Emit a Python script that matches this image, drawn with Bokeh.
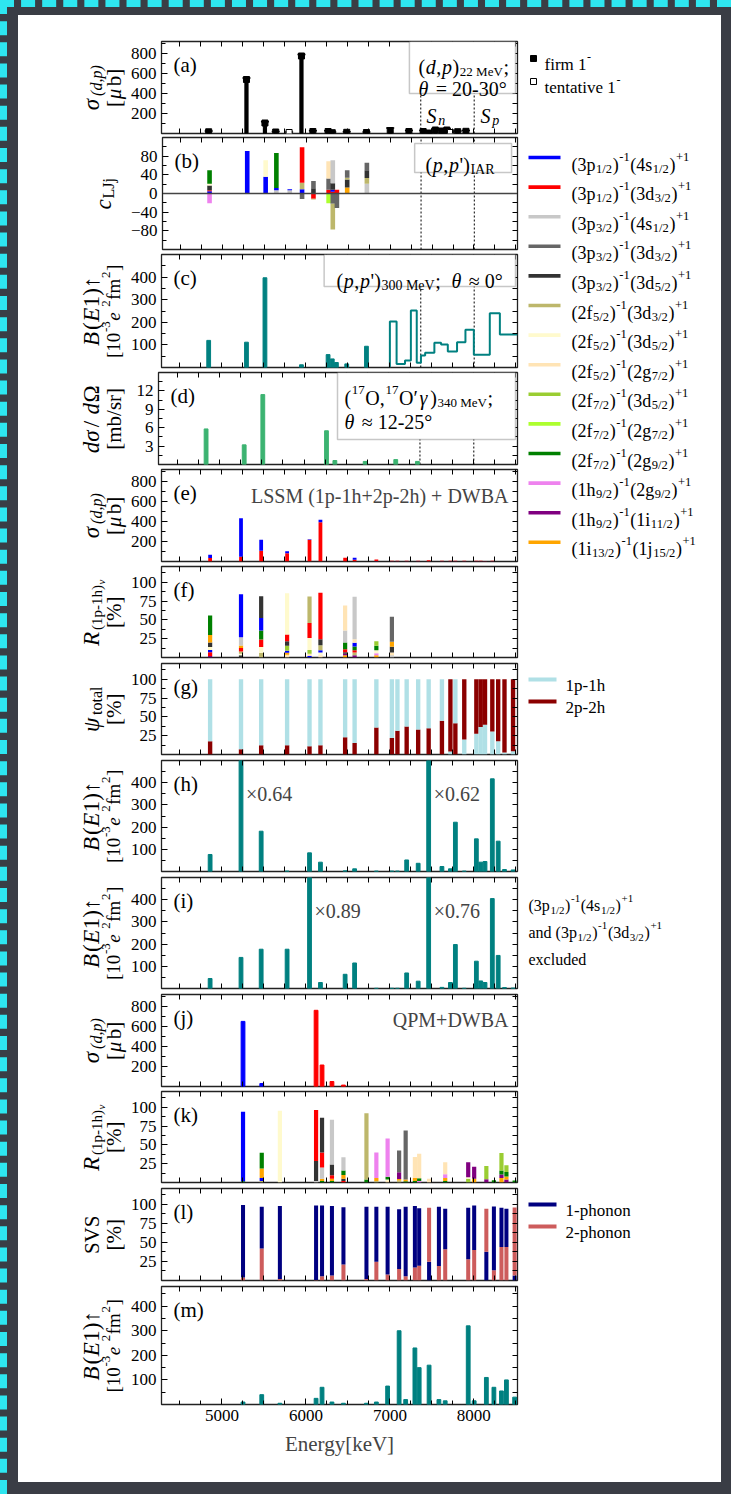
import math
from bokeh.plotting import figure
from bokeh.layouts import column, row
from bokeh.models import (Label, FixedTicker, LinearAxis, Range1d, BoxAnnotation,
                          Spacer, ColumnDataSource, Span)
from bokeh.embed import file_html
from bokeh.resources import INLINE

SERIF = "Liberation Serif"

# ------------------------------------------------------------------ data ---
E_LIM = (4280, 8520)
E_MAJOR = [5000, 6000, 7000, 8000]
E_MINOR = [4500, 4750, 5250, 5500, 5750, 6250, 6500, 6750, 7250, 7500, 7750, 8250, 8500]
S_N, S_P = 7368, 8004

# particle-hole configurations (hole, particle) and their colours
cfg_keys = ["p1s", "p1d3", "p3s", "p3d3", "p3d5", "f5d3", "f5d5", "f5g7",
            "f7d5", "f7g7", "f7g9", "h9g9", "h9i11", "i13j15"]
cfg_hole = ["3p", "3p", "3p", "3p", "3p", "2f", "2f", "2f", "2f", "2f", "2f", "1h", "1h", "1i"]
cfg_hole_j = ["1/2", "1/2", "3/2", "3/2", "3/2", "5/2", "5/2", "5/2", "7/2", "7/2", "7/2",
              "9/2", "9/2", "13/2"]
cfg_part = ["4s", "3d", "4s", "3d", "3d", "3d", "3d", "2g", "3d", "2g", "2g", "2g", "1i", "1j"]
cfg_part_j = ["1/2", "3/2", "1/2", "3/2", "5/2", "3/2", "5/2", "7/2", "5/2", "7/2", "9/2",
              "9/2", "11/2", "15/2"]
cfg_color = ["#0000ff", "#ff0000", "#c8c8c8", "#666666", "#333333", "#bdb76b", "#fffacd",
             "#ffe4b5", "#9acd32", "#adff2f", "#008000", "#ee82ee", "#800080", "#ffa500"]
CFG_COLOR = dict(zip(cfg_keys, cfg_color))

# (a) (d,p) 22 MeV
dp_E = [4842, 5292, 5512, 5640, 5800, 5947, 6083, 6264, 6314, 6486, 6721, 7004, 7227,
        7396, 7467, 7541, 7620, 7679, 7721, 7808, 7906]
dp_sigma = [17, 540, 105, 15, 10, 775, 20, 20, 8, 12, 10, 30, 20, 20, 5, 35, 25, 35, 10, 18, 22]
dp_err = [8, 15, 12, 6, 6, 15, 8, 8, 6, 6, 6, 25, 10, 10, 6, 12, 10, 12, 6, 8, 8]
dp_tentative = [False, False, False, False, True, False, False, False, False, False, False,
                False, False, False, False, False, False, False, True, False, False]

# (b) (p,p') IAR amplitudes, positive and negative stacks
iar_E = [4842, 5292, 5512, 5640, 5800, 5947, 6083, 6264, 6314, 6363, 6486, 6721]
iar_pos = [
    [("p1s", 5), ("p1d3", 2), ("p3d5", 10), ("f5d5", 4), ("f7g9", 29)],
    [("p1s", 91)],
    [("p1s", 36), ("f5d5", 35)],
    [("p3s", 7), ("p1s", 5), ("f7g9", 75)],
    [("p3s", 7), ("p1s", 2)],
    [("p1s", 9), ("f5d3", 14), ("p1d3", 76)],
    [("p3d5", 11), ("p3d3", 16)],
    [("p1d3", 8), ("p3d3", 24), ("f5g7", 37)],
    [("p1d3", 4), ("p1s", 4), ("p3d5", 14), ("p3s", 49)],
    [("p1d3", 8)],
    [("i13j15", 13), ("p3d5", 17), ("f5d3", 4), ("p3d3", 16)],
    [("p3s", 21), ("f5d3", 12), ("p3d5", 17), ("p3d3", 16)],
]
iar_neg = [
    [("h9g9", 21)], [], [], [], [], [("p3d3", 12)], [("p1d3", 11), ("f5d3", 2)],
    [("f7g7", 21)], [("p3d3", 22), ("f5d3", 55)], [("p3d3", 31)], [], [],
]

# (c) (p,p') 300 MeV B(E1): discrete states and binned strength
pp_E = [4842, 5292, 5512, 5947, 6264, 6314, 6363, 6486, 6721]
pp_BE1 = [120, 112, 397, 12, 57, 38, 22, 16, 94]
pp_edges = [7000, 7080, 7180, 7250, 7320, 7370, 7420, 7530, 7610, 7690, 7800, 7900, 8000,
            8190, 8310, 8520]
pp_hist = [203, 16, 31, 252, 21, 53, 65, 109, 102, 71, 112, 167, 56, 240, 146]

# (d) (17O,17O'g) 340 MeV
ox_E = [4842, 5292, 5512, 6264, 6363, 6721, 7082, 7338]
ox_xs = [5.8, 3.2, 11.4, 5.5, 0.65, 0.5, 0.8, 0.5]

# (e)-(i) large-scale shell model
lssm_E = [4859, 5227, 5467, 5776, 6043, 6173, 6467, 6580, 6839, 7024, 7090, 7200, 7337,
          7462, 7620, 7721, 7780, 7886, 8030, 8082, 8133, 8220, 8290, 8365, 8467]
lssm_dp = [
    [("p1d3", 35), ("p1s", 32)], [("p1d3", 47), ("p1s", 386)], [("p1d3", 107), ("p1s", 110)],
    [("p1d3", 83), ("p1s", 20)], [("p1d3", 217), ("p1s", 6)], [("p1d3", 393), ("p1s", 24)],
    [("p1d3", 37)], [("p1d3", 17), ("p1s", 20)], [("h9i11", 5), ("p1d3", 16)],
    [("h9i11", 3), ("p1d3", 5)], [("h9i11", 3), ("p1d3", 4)], [("h9i11", 3), ("p1d3", 5)],
    [("h9i11", 3), ("p1d3", 5)], [("p1d3", 12)], [("h9i11", 3), ("p1d3", 4)],
    [("h9i11", 3), ("p1d3", 4)], [("h9i11", 3), ("p1d3", 4)], [("h9i11", 3), ("p1d3", 4)],
    [("h9i11", 3), ("p1d3", 4)], [("h9i11", 3), ("p1d3", 4)], [("h9i11", 3), ("p1d3", 3)],
    [("h9i11", 3), ("p1d3", 4)], [], [], [],
]
lssm_R = [
    [("h9i11", 2), ("p1d3", 5), ("p1s", 3), ("f5d5", 4), ("p3d5", 6), ("i13j15", 10), ("f7g9", 26)],
    [("p3d5", 3), ("f5d5", 2), ("f5d3", 3), ("p1d3", 4.5), ("i13j15", 3.5), ("p3s", 11), ("p1s", 57)],
    [("f5d3", 6), ("f5d5", 8), ("p1d3", 10), ("f7g9", 12), ("p1s", 16.5), ("p3d5", 29)],
    [("f5g7", 3.5), ("i13j15", 2.7), ("p1s", 2.7), ("f7d5", 6.6), ("p3d5", 6.2), ("p1d3", 9),
     ("f5d5", 54.7)],
    [("p1s", 2), ("f5g7", 3), ("f7d5", 5), ("f5d5", 16), ("p1d3", 20), ("f5d3", 35)],
    [("f5g7", 3), ("f5d5", 3.5), ("p1s", 3), ("f5d3", 6.7), ("p3d5", 8), ("p1d3", 62)],
    [("i13j15", 3), ("h9i11", 2), ("p3d5", 2), ("p1d3", 4), ("f7g9", 9), ("p3s", 16), ("f5g7", 33.3)],
    [("h9i11", 3), ("f5d3", 3.5), ("p1d3", 3), ("f7g9", 5), ("p1s", 5), ("f5g7", 4.7), ("p3s", 56.5)],
    [("i13j15", 3), ("h9g9", 2.5), ("f5d5", 4), ("f7g9", 6), ("f7d5", 6)],
    [("p3s", 3), ("f5g7", 3.6), ("p3d5", 7.6), ("i13j15", 6.6), ("p3d3", 33.4)],
    [], [], [], [], [], [], [], [], [], [], [], [], [], [], [],
]
lssm_2p2h = [17.5, 7, 12.3, 12.3, 11, 12.3, 22.8, 15.3, 36, 21.9, 31.5, 37.3, 33.3, 35, 45,
             96, 41.6, 80, 72.4, 63.6, 60.5, 69.3, 82.5, 97.4, 95.6]
lssm_BE1 = [76.6, 620, 181.5, 2, 84, 42, 3, 12, 2, 2, 2, 52, 37, 600, 22.5, 12, 222, 2,
            147, 42, 45, 417.5, 136.6, 9, 7]
lssm_BE1_excl = [45, 140, 177, 177, 620, 27, 64, 115, 1, 1, 1, 70, 33, 600, 5, 27, 198, 1,
                 123, 34, 27, 405, 149, 4, 2]
h_scale_E = [5227, 7462]
h_scale_txt = ["×0.64", "×0.62"]
i_scale_E = [6043, 7462]
i_scale_txt = ["×0.89", "×0.76"]

# (j)-(m) quasiparticle-phonon model
qpm_dp_E = [5251, 5474, 6121, 6192, 6310, 6447]
qpm_dp_sigma = [651, 30, 762, 215, 50, 14]
qpm_dp_cfg = ["p1s", "p1s", "p1d3", "p1d3", "p1d3", "p1d3"]

qpm_E = [5251, 5474, 5690, 6121, 6192, 6310, 6447, 6721, 6839, 6973, 7110, 7188, 7298,
         7349, 7467, 7584, 7659, 7933, 8004, 8149, 8239, 8329, 8388, 8486]
qpm_R = [
    [("f7g9", 1.5), ("p1s", 92.5)],
    [("f5d3", 2), ("p1s", 4), ("i13j15", 12.5), ("f7g9", 21)],
    [("f5d5", 95.3)],
    [("p3s", 2), ("p3d5", 26.5), ("p1d3", 68)],
    [("f7g9", 2), ("i13j15", 3), ("p3s", 15), ("p1d3", 20), ("p3d5", 46)],
    [("f7g9", 2), ("i13j15", 3), ("p1d3", 4.5), ("p3d5", 14.5), ("p3s", 59.5)],
    [("p1d3", 2), ("p3d5", 3), ("i13j15", 5), ("f7g9", 6), ("p3s", 17.6)],
    [("f7g9", 4), ("f5d3", 88)],
    [("f5d3", 2), ("i13j15", 4), ("h9g9", 34)],
    [("f5g7", 2), ("f5d5", 2), ("f7g9", 3.5), ("h9g9", 51)],
    [("f5d3", 2.5), ("i13j15", 2), ("h9i11", 9), ("p3d3", 29)],
    [("f7g9", 1.5), ("i13j15", 2.5), ("p3d3", 65)],
    [("f7g9", 2), ("i13j15", 4), ("f5g7", 28)],
    [("h9g9", 2), ("f7g9", 3.5), ("f5g7", 32.8)],
    [("f5g7", 5)],
    [],
    [("f7g9", 2), ("i13j15", 4), ("h9g9", 5), ("f5g7", 16)],
    [("f7d5", 5), ("f5d5", 2), ("h9i11", 20)],
    [("i13j15", 5), ("h9i11", 16)],
    [("h9i11", 4.4), ("f7d5", 17.6)],
    [("f7g9", 3)],
    [("i13j15", 6), ("h9i11", 4.5), ("f7g9", 5.6), ("f7d5", 23)],
    [("h9i11", 4), ("i13j15", 4), ("f7g9", 6), ("f7d5", 9)],
    [("f7g9", 2.5)],
]
qpm_1ph = [95.3, 55, 96, 98.2, 93, 91.4, 75.3, 95, 72.5, 89, 78.7, 91.3, 81, 75.7, 24.5, 78,
           53.4, 67.6, 58.7, 37.7, 83.8, 51.6, 50.4, 6.6]
qpm_2ph = [4, 42, 2, 0.5, 5.7, 6.6, 21, 2, 24.5, 8, 15, 5.7, 17, 19.3, 71.1, 19, 41, 28, 40,
           56.7, 13.6, 44, 44, 89.4]
qpm_BE1 = [10, 40, 5, 25, 70, 10, 5, 5, 10, 75, 300, 20, 230, 150, 160, 20, 15, 320, 15, 110,
           70, 55, 100, 30]

TEAL = "#008080"
OX_GREEN = "#3cb371"
C_1P1H, C_2P2H = "#b0e0e6", "#8b0000"
C_1PH, C_2PH = "#000080", "#cd5c5c"

# ---------------------------------------------------------------- layout ---
SHEET_X0, SHEET_Y0 = 18, 15
SHEET_H = 1467
FRAME_L, FRAME_W = 158, 359
LAB_W = 109                      # strip holding the rotated axis titles
PANEL_W = 509 - LAB_W
SIDE_X0 = SHEET_X0 + LAB_W + PANEL_W
SIDE_W = 194
frames = [(41, 133), (137, 249), (254, 367), (372, 464), (469, 561), (566, 657), (663, 754),
          (760, 871), (877, 988), (994, 1086), (1091, 1182), (1188, 1280), (1286, 1404)]
YL_1, YL_2, YL_SINGLE = 91, 113, 103

# character advances (per 1000 em) for composing text runs
ADV = {c: 500 for c in "0123456789"}
ADV.update({" ": 250, "(": 333, ")": 333, ",": 250, "-": 333, ".": 250, "/": 278, ";": 278,
            "=": 564, "+": 564, "[": 333, "]": 333, "'": 180, "%": 833, "σ": 600, "μ": 600,
            "Ω": 780, "θ": 580, "ψ": 720, "ν": 520, "γ": 500, "↑": 500, "≈": 549, "°": 400,
            "×": 564, "′": 275})
ADV.update(dict(zip("ABCDEFGHIJKLMNOPQRSTUVWXYZ",
                    [722, 667, 667, 722, 611, 556, 722, 722, 333, 389, 722, 611, 889, 722, 722,
                     556, 722, 667, 556, 611, 722, 722, 944, 722, 722, 611])))
ADV.update(dict(zip("abcdefghijklmnopqrstuvwxyz",
                    [444, 500, 444, 500, 444, 333, 500, 500, 278, 278, 500, 278, 778, 500, 500,
                     500, 500, 333, 389, 278, 500, 500, 722, 500, 500, 444])))


def text_width(s, size):
    return sum(ADV.get(ch, 500) for ch in s) * size / 1000.0 + 0.6


def rich(p, origin, px, py, runs, angle=0.0, align="left", color="black"):
    """Place a sequence of (text, size, rise, style) runs; px/py are page pixels."""
    fl, fb = origin
    total = sum(text_width(t, s) for t, s, _, _ in runs)
    pos = {"left": 0.0, "center": -total / 2.0, "right": -total}[align]
    for t, s, rise, style in runs:
        if angle == 0:
            sx, sy = px + pos - fl, fb - (py - rise)
        else:
            sx, sy = (px - rise) - fl, fb - (py - pos)
        p.add_layout(Label(x=sx, y=sy, x_units="screen", y_units="screen", text=t,
                           text_font=SERIF, text_font_size=f"{s:.1f}px", text_font_style=style,
                           text_align="left", text_baseline="alphabetic", angle=angle,
                           text_color=color))
        pos += text_width(t, s)


def R(t, s, rise=0):
    return (t, s, rise, "normal")


def I(t, s, rise=0):
    return (t, s, rise, "italic")


xr = Range1d(*E_LIM)


def style_axis(ax, labels, ticks, minor):
    ax.axis_line_color = None
    ax.major_tick_out = 0
    ax.minor_tick_out = 0
    ax.major_tick_line_color = "black"
    ax.minor_tick_line_color = "black"
    ax.major_label_text_font = SERIF
    ax.major_label_text_color = "black"
    ax.major_label_text_font_size = "17px"
    if labels:
        ax.ticker = FixedTicker(ticks=ticks, minor_ticks=minor)
        ax.major_tick_in = 6
        ax.minor_tick_in = 4
        ax.major_label_standoff = 5
    else:
        ax.ticker = FixedTicker(ticks=[], minor_ticks=sorted(list(ticks) + list(minor)))
        ax.minor_tick_in = 5
        ax.major_tick_in = 0
        ax.major_label_standoff = 0


def blank_fig(w, h):
    f = figure(width=w, height=h, x_range=Range1d(0, w), y_range=Range1d(0, h),
               x_axis_location=None, y_axis_location=None, output_backend="svg",
               toolbar_location=None, min_border=0)
    f.outline_line_color = None
    f.grid.visible = False
    f.border_fill_color = "white"
    return f


rows = []
lab_figs = {}


def build_panel(idx, yr, yt, ym, letter, last=False):
    ftop, fbot = frames[idx]
    top = SHEET_Y0 if idx == 0 else (frames[idx - 1][1] + ftop) // 2
    bot = SHEET_Y0 + SHEET_H if last else (fbot + frames[idx + 1][0]) // 2
    lab = blank_fig(LAB_W, bot - top)
    p = figure(width=PANEL_W, height=bot - top, x_range=xr, y_range=Range1d(*yr),
               output_backend="svg", toolbar_location=None,
               min_border_left=FRAME_L - SHEET_X0 - LAB_W,
               min_border_right=PANEL_W - (FRAME_L - SHEET_X0 - LAB_W) - FRAME_W,
               min_border_top=ftop - top, min_border_bottom=bot - fbot)
    p.grid.visible = False
    p.outline_line_color = "#222222"
    p.outline_line_width = 1.3
    p.border_fill_color = "white"
    p.add_layout(LinearAxis(), "above")
    p.add_layout(LinearAxis(), "right")
    style_axis(p.left[0], True, yt, ym)
    style_axis(p.right[0], False, yt, ym)
    style_axis(p.above[0], False, E_MAJOR, E_MINOR)
    style_axis(p.below[0], last, E_MAJOR, E_MINOR)
    if last:
        ax = p.below[0]
        ax.axis_label = "Energy[keV]"
        ax.axis_label_text_font = SERIF
        ax.axis_label_text_font_style = "normal"
        ax.axis_label_text_font_size = "21px"
        ax.axis_label_standoff = 8
    rich(p, (FRAME_L, fbot), FRAME_L + 12, ftop + 23, [R(f"({letter})", 21)])
    lab_figs[idx] = lab
    rows.append(row(lab, p))
    return p


def org(idx):
    return (FRAME_L, frames[idx][1])


def ylabel(idx, line1, line2=None):
    # the title strip shares the panel's frame rows, so its origin is the frame bottom
    ftop, fbot = frames[idx]
    yc = (ftop + fbot) / 2.0
    lab = lab_figs[idx]
    o = (SHEET_X0, fbot)
    if line2 is None:
        rich(lab, o, YL_SINGLE, yc, line1, angle=math.pi / 2, align="center")
    else:
        rich(lab, o, YL_1, yc, line1, angle=math.pi / 2, align="center")
        rich(lab, o, YL_2, yc, line2, angle=math.pi / 2, align="center")


def px_to_E(px):
    return E_LIM[0] + (px - FRAME_L) / FRAME_W * (E_LIM[1] - E_LIM[0])


def py_to_val(p, idx, py):
    ftop, fbot = frames[idx]
    y0, y1 = p.y_range.start, p.y_range.end
    return y0 + (fbot - py) / (fbot - ftop) * (y1 - y0)


def inset_box(p, idx, x0, y0, x1, y1):
    p.add_layout(BoxAnnotation(left=px_to_E(x0), right=px_to_E(x1),
                               bottom=py_to_val(p, idx, y1), top=py_to_val(p, idx, y0),
                               fill_color="white", fill_alpha=1.0, line_color="#444444",
                               line_width=1.5))


def threshold_lines(p):
    y0, y1 = p.y_range.start, p.y_range.end
    p.segment(x0=[S_N, S_P], y0=[y0, y0], x1=[S_N, S_P], y1=[y1, y1], line_color="black",
              line_width=1, line_dash="2 2")


def stacked(p, energies, stacks, width, sign=1):
    xs, bots, tops, cols = [], [], [], []
    for e, parts in zip(energies, stacks):
        level = 0.0
        for key, v in parts:
            xs.append(e)
            bots.append(level)
            level += sign * v
            tops.append(level)
            cols.append(CFG_COLOR.get(key, key))
    if xs:
        p.vbar(x="x", bottom="bottom", top="top", width=width, fill_color="color",
               line_color=None, source=ColumnDataSource(dict(x=xs, bottom=bots, top=tops, color=cols)))


def two_part(p, energies, a_vals, b_vals, a_col, b_col, width):
    """Two-component 100% bars, the smaller share drawn at the bottom."""
    xs, bots, tops, cols = [], [], [], []
    for e, a, b in zip(energies, a_vals, b_vals):
        parts = sorted([(a, a_col), (b, b_col)], key=lambda t: t[0])
        level = 0.0
        for v, c in parts:
            xs.append(e); bots.append(level); level += v; tops.append(level); cols.append(c)
    p.vbar(x="x", bottom="bottom", top="top", width=width, fill_color="color", line_color=None,
           source=ColumnDataSource(dict(x=xs, bottom=bots, top=tops, color=cols)))


Y_DP = ((0, 920), [200, 400, 600, 800], [100, 300, 500, 700, 900])
Y_PCT = ((0, 121), [25, 50, 75, 100], [12.5, 37.5, 62.5, 87.5, 112.5])
Y_BE1 = ((0, 500), [100, 200, 300, 400], [50, 150, 250, 350, 450])

SIG_L1 = [I("σ", 23), I("(d,p)", 16, -5)]
SIG_L2 = [R("[", 21), I("μ", 21), R("b]", 21)]
BE1_L1 = [I("B", 23), R("(", 23), I("E", 23), R("1)↑", 23)]
BE1_L2 = [R("[10", 19), R("-3", 13, 8), I(" e", 19), R("2", 13, 8), R("fm", 19), R("2", 13, 8),
          R("]", 19)]
R_L1 = [I("R", 23), R("(1p-1h)", 15, -5), I("ν", 11, -9)]
PCT_L2 = [R("[%]", 21)]
PP_RUNS = [R("(", 20), I("p", 20), R(",", 20), I("p", 20), R("')", 20)]

# (a)
pa = build_panel(0, *Y_DP, "a")
threshold_lines(pa)
pa.vbar(x=dp_E, top=dp_sigma, width=38, color="black")
pa.segment(x0=dp_E, y0=[s - e for s, e in zip(dp_sigma, dp_err)], x1=dp_E,
           y1=[s + e for s, e in zip(dp_sigma, dp_err)], line_color="black", line_width=1.5)
pa.scatter(x=dp_E, y=[s + e for s, e in zip(dp_sigma, dp_err)], marker="dash", size=8,
           line_color="black", line_width=1.5)
pa.scatter(x=dp_E, y=dp_sigma, marker="square", size=6, line_color="black",
           fill_color=["white" if t else "black" for t in dp_tentative])
inset_box(pa, 0, 408, 41, 515, 93)
rich(pa, org(0), 415, 66, [R("(", 20), I("d", 20), R(",", 20), I("p", 20), R(")", 20),
                          R("22 MeV", 13, -5), R(";", 20)])
rich(pa, org(0), 415, 88, [I("θ ", 20), R("= 20-30°", 20)])
rich(pa, org(0), 423, 115, [I("S", 20), I("n", 14, -5)])
rich(pa, org(0), 477, 115, [I("S", 20), I("p", 14, -5)])
ylabel(0, SIG_L1, SIG_L2)

# (b)
pb = build_panel(1, (-120, 120), [-80, -40, 0, 40, 80], [-100, -60, -20, 20, 60, 100], "b")
threshold_lines(pb)
stacked(pb, iar_E, iar_pos, 55)
stacked(pb, iar_E, iar_neg, 55, sign=-1)
pb.add_layout(Span(location=0, dimension="width", line_color="#444444", line_width=1.3))
inset_box(pb, 1, 413, 143, 511, 172)
rich(pb, org(1), 421, 164, PP_RUNS + [R("IAR", 14, -5)])
ylabel(1, [I("c", 23), R("LJj", 16, -5)])

# (c)
pc = build_panel(2, *Y_BE1, "c")
threshold_lines(pc)
pc.vbar(x=pp_E, top=pp_BE1, width=45, color=TEAL)
step_x, step_y = [pp_edges[0]], [0]
for i, v in enumerate(pp_hist):
    step_x += [pp_edges[i], pp_edges[i + 1]]
    step_y += [v, v]
pc.line(step_x, step_y, line_color=TEAL, line_width=2)
inset_box(pc, 2, 322, 254, 515, 286)
rich(pc, org(2), 333, 280, PP_RUNS + [R("300 MeV", 14, -5), R(" ; ", 20), I("θ ", 20),
                                      R("≈ 0°", 20)])
ylabel(2, BE1_L1, BE1_L2)

# (d)
pd = build_panel(3, (0, 15), [3, 6, 9, 12], [1.5, 4.5, 7.5, 10.5, 13.5], "d")
threshold_lines(pd)
pd.vbar(x=ox_E, top=ox_xs, width=45, color=OX_GREEN)
inset_box(pd, 3, 337, 372, 515, 439)
rich(pd, org(3), 344, 397, [R("(", 20), R("17", 13, 8), R("O,", 20), R("17", 13, 8), R("O′", 20),
                           I("γ", 20), R(")", 20), R("340 MeV", 13, -5), R(";", 20)])
rich(pd, org(3), 344, 421, [I("θ ", 20), R("≈ 12-25°", 20)])
ylabel(3, [I("dσ", 23), R("/ ", 23), I("d", 23), R("Ω", 23)], [R("[mb/sr]", 21)])

# (e)
pe = build_panel(4, *Y_DP, "e")
stacked(pe, lssm_E, lssm_dp, 45)
pe.add_layout(Label(x=505 - FRAME_L, y=561 - 495, x_units="screen", y_units="screen",
                    text="LSSM (1p-1h+2p-2h) + DWBA", text_font=SERIF, text_font_size="20px",
                    text_align="right", text_baseline="alphabetic"))
ylabel(4, SIG_L1, SIG_L2)

# (f)
pf = build_panel(5, *Y_PCT, "f")
stacked(pf, lssm_E, lssm_R, 50)
ylabel(5, R_L1, PCT_L2)

# (g)
pg = build_panel(6, *Y_PCT, "g")
two_part(pg, lssm_E, [100 - v for v in lssm_2p2h], lssm_2p2h, C_1P1H, C_2P2H, 52)
ylabel(6, [I("ψ", 23), R("total", 16, -5)], PCT_L2)

# (h)
ph = build_panel(7, *Y_BE1, "h")
ph.vbar(x=lssm_E, top=lssm_BE1, width=45, color=TEAL)
for e, t in zip(h_scale_E, h_scale_txt):
    ph.add_layout(Label(x=e, y=py_to_val(ph, 7, 793), x_offset=5, text=t, text_font=SERIF,
                        text_font_size="20px", text_baseline="alphabetic"))
ylabel(7, BE1_L1, BE1_L2)

# (i)
pi = build_panel(8, *Y_BE1, "i")
pi.vbar(x=lssm_E, top=lssm_BE1_excl, width=45, color=TEAL)
for e, t in zip(i_scale_E, i_scale_txt):
    pi.add_layout(Label(x=e, y=py_to_val(pi, 8, 910), x_offset=5, text=t, text_font=SERIF,
                        text_font_size="20px", text_baseline="alphabetic"))
ylabel(8, BE1_L1, BE1_L2)

# (j)
pj = build_panel(9, *Y_DP, "j")
pj.vbar(x=qpm_dp_E, top=qpm_dp_sigma, width=45, color=[CFG_COLOR[k] for k in qpm_dp_cfg])
pj.add_layout(Label(x=505 - FRAME_L, y=1086 - 1019, x_units="screen", y_units="screen",
                    text="QPM+DWBA", text_font=SERIF, text_font_size="20px",
                    text_align="right", text_baseline="alphabetic"))
ylabel(9, SIG_L1, SIG_L2)

# (k)
pk = build_panel(10, *Y_PCT, "k")
stacked(pk, qpm_E, qpm_R, 50)
ylabel(10, R_L1, PCT_L2)

# (l)
pl = build_panel(11, *Y_PCT, "l")
two_part(pl, qpm_E, qpm_1ph, qpm_2ph, C_1PH, C_2PH, 48)
ylabel(11, [R("SVS", 21)], PCT_L2)

# (m)
pm = build_panel(12, (0, 480), [100, 200, 300, 400], [50, 150, 250, 350, 450], "m", last=True)
pm.vbar(x=qpm_E, top=qpm_BE1, width=45, color=TEAL)
ylabel(12, BE1_L1, BE1_L2)

# ------------------------------------------------------------ side column ---
side = blank_fig(SIDE_W, SHEET_H)
SORG = (SIDE_X0, SHEET_Y0 + SHEET_H)


def sx(px):
    return px - SIDE_X0


def sy(py):
    return SHEET_Y0 + SHEET_H - py


# (a) key
side.scatter(x=[sx(533), sx(533)], y=[sy(58), sy(81)], marker="square", size=6,
             line_color="black", fill_color=["black", "white"])
rich(side, SORG, 544, 64, [R("firm 1", 17), R("-", 12, 8)])
rich(side, SORG, 544, 87, [R("tentative 1", 17), R("-", 12, 8)])

# configuration key
row_y = [157 + 29.6 * k for k in range(len(cfg_keys))]
side.quad(left=[sx(528)] * len(row_y), right=[sx(560)] * len(row_y),
          bottom=[sy(y) - 1.8 for y in row_y], top=[sy(y) + 1.8 for y in row_y],
          fill_color=cfg_color, line_color=None)
for k, y in enumerate(row_y):
    rich(side, SORG, 571, y + 7,
         [R("(" + cfg_hole[k], 18), R(cfg_hole_j[k], 12.5, -4), R(")", 18), R("-1", 12.5, 8),
          R("(" + cfg_part[k], 18), R(cfg_part_j[k], 12.5, -4), R(")", 18), R("+1", 12.5, 8)])

# (g) key
for y, c, t in [(679, C_1P1H, "1p-1h"), (701, C_2P2H, "2p-2h")]:
    side.quad(left=[sx(528)], right=[sx(556)], bottom=[sy(y) - 2], top=[sy(y) + 2],
              fill_color=c, line_color=None)
    rich(side, SORG, 565, y + 6, [R(t, 17)])

# (i) note
rich(side, SORG, 528, 905, [R("(3p", 16), R("1/2", 11, -4), R(")", 16), R("-1", 11, 7),
                             R("(4s", 16), R("1/2", 11, -4), R(")", 16), R("+1", 11, 7)])
rich(side, SORG, 528, 932, [R("and (3p", 16), R("1/2", 11, -4), R(")", 16), R("-1", 11, 7),
                             R("(3d", 16), R("3/2", 11, -4), R(")", 16), R("+1", 11, 7)])
rich(side, SORG, 528, 959, [R("excluded", 16)])

# (l) key
for y, c, t in [(1204, C_1PH, "1-phonon"), (1226, C_2PH, "2-phonon")]:
    side.quad(left=[sx(528)], right=[sx(556)], bottom=[sy(y) - 2], top=[sy(y) + 2],
              fill_color=c, line_color=None)
    rich(side, SORG, 565, y + 6, [R(t, 17)])

# ------------------------------------------------------------------ page ---
WHITE = {"background-color": "white"}
sheet = row(column(*rows, styles=WHITE), side, styles=WHITE)
root = column(
    Spacer(width=724, height=8),
    row(Spacer(width=11, height=SHEET_H), sheet, Spacer(width=10, height=SHEET_H)),
    Spacer(width=724, height=12),
    styles={"background-color": "#3a3d45", "border-top": "7px dashed #2ee6f0",
            "border-left": "7px dashed #2ee6f0"},
)

open("out.html", "w").write(file_html(root, INLINE))
